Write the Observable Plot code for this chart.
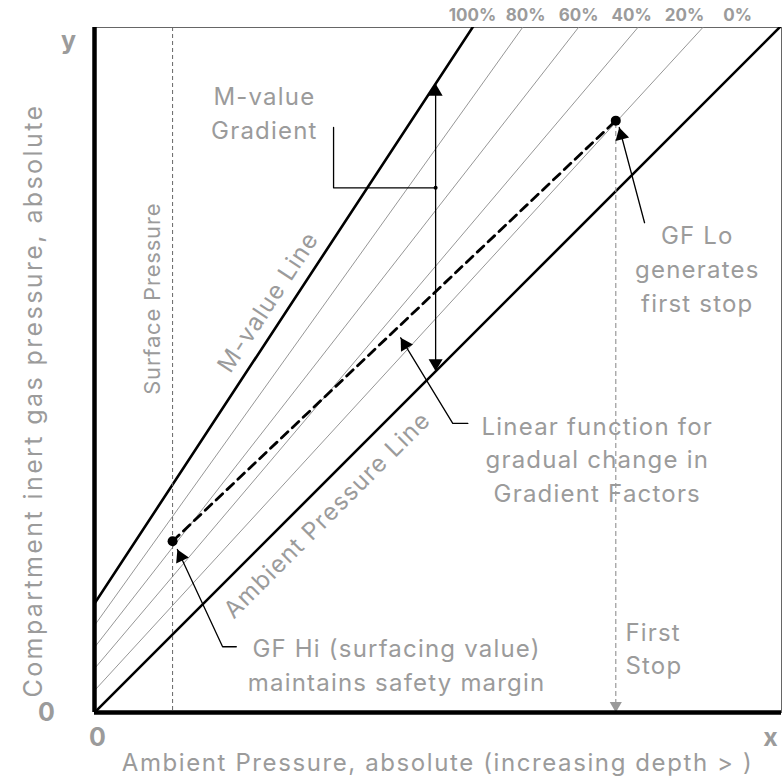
<!DOCTYPE html>
<html><head><meta charset="utf-8">
<script src="https://cdn.jsdelivr.net/npm/d3@7"></script>
<script src="https://cdn.jsdelivr.net/npm/@observablehq/plot@0.6"></script>
<style>body{margin:0;background:#fff}
.wide text{letter-spacing:1.2px}
.xtitle text{letter-spacing:1.6px}
.ytitle text{letter-spacing:2.4px}
.surface text{letter-spacing:0.8px}
</style>
</head><body><div id="chart"></div>
<script>
// Gradient-factor lines: y = intercept + slope * x  (100% = M-value line, 0% = ambient line)
const gfLevels = [100, 80, 60, 40, 20, 0];
const gfLabels = ["100%", "80%", "60%", "40%", "20%", "0%"];
const gfIntercepts = [1.59, 1.27, 0.95, 0.64, 0.32, 0];
const gfSlopes = [1.524, 1.397, 1.281, 1.18, 1.09, 1.0];

// key points
const gfHiPoint = {x: 1.14, y: 2.50};   // GF Hi (surfacing value)
const gfLoPoint = {x: 7.61, y: 8.64};   // GF Lo (first stop)
const gradientX = 4.98;                 // where M-value gradient is measured
const gradientDotY = 7.66;
const bracketCorner = {x: 3.49, y: 8.54};

// annotation arrows: short tail end, elbow, tip
const arrowGFHi = {elbow: {x: 1.87, y: 0.96}, tail: {x: 2.07, y: 0.96}, tip: {x: 1.21, y: 2.38}};
const arrowGFLo = {elbow: {x: 8.03, y: 7.15}, tail: null, tip: {x: 7.66, y: 8.54}};
const arrowLinear = {elbow: {x: 5.23, y: 4.22}, tail: {x: 5.45, y: 4.22}, tip: {x: 4.47, y: 5.47}};

// texts
const annotations = [
  {text: "M-value\nGradient", x: 2.48, y: 8.78},
  {text: "GF Lo\ngenerates\nfirst stop", x: 8.80, y: 6.50},
  {text: "Linear function for\ngradual change in\nGradient Factors", x: 7.34, y: 3.72},
  {text: "GF Hi (surfacing value)\nmaintains safety margin", x: 4.41, y: 0.715}
];
const leftAnnotations = [
  {text: "First\nStop", x: 7.75, y: 0.96}
];
const surfaceLabel = [{text: "Surface Pressure", x: 0.85, y: 6.04, rotate: -90}];
const lineLabels = [
  {text: "M-value Line", x: 2.54, y: 5.99, rotate: -56.7},
  {text: "Ambient Pressure Line", x: 3.40, y: 2.88, rotate: -45}
];
const xAxisTitle = "Ambient Pressure, absolute (increasing depth > )";
const yAxisTitle = "Compartment inert gas pressure, absolute";

// ---- layout ----
const PX = 68.5;                 // pixels per unit (equal on both axes)
const W = 782, H = 777;
const mL = 94, mR = 1, mT = 27, mB = 65;
const XMAX = (W - mL - mR) / PX;
const YMAX = (H - mT - mB) / PX;
const yAt = (i, x) => gfIntercepts[i] + gfSlopes[i] * x;

const lineData = gfLevels.flatMap((g, i) => [
  {g, i, x: 0, y: yAt(i, 0)},
  {g, i, x: XMAX, y: yAt(i, XMAX)}
]);
const thick = lineData.filter(d => d.g === 100 || d.g === 0);
const thin = lineData.filter(d => d.g !== 100 && d.g !== 0);

// top labels evenly spaced starting at M-value line top
const mTop = (YMAX - gfIntercepts[0]) / gfSlopes[0];
const topLabels = gfLabels.map((t, i) => ({text: t, x: mTop + i * 0.774, y: YMAX + 12 / PX}));

function head(tip, from, r) {
  let ux = tip.x - from.x, uy = tip.y - from.y;
  const n = Math.hypot(ux, uy); ux /= n; uy /= n;
  const off = 1.555 * r / PX;
  return {x: tip.x - ux * off, y: tip.y - uy * off, rotate: Math.atan2(ux, uy) * 180 / Math.PI};
}
const R = 5.2;
const yM = yAt(0, gradientX), yA = yAt(5, gradientX);
const blackHeads = [
  head(arrowGFHi.tip, arrowGFHi.elbow, R),
  head(arrowGFLo.tip, arrowGFLo.elbow, R),
  head(arrowLinear.tip, arrowLinear.elbow, R),
  head({x: gradientX, y: yM}, {x: gradientX, y: yA}, R),
  head({x: gradientX, y: yA}, {x: gradientX, y: yM}, R)
];
const grayHeads = [head({x: gfLoPoint.x, y: 0}, gfLoPoint, 4.5)];

const pathOf = a => (a.tail ? [a.tail, a.elbow, a.tip] : [a.elbow, a.tip]);

const font = "Inter, 'Open Sans', sans-serif";
const gray = "#9b9b9b";
const FS = 24;

const chart = Plot.plot({
  width: W, height: H,
  marginLeft: mL, marginRight: mR, marginTop: mT, marginBottom: mB,
  x: {domain: [0, XMAX], axis: null},
  y: {domain: [0, YMAX], axis: null},
  style: {fontFamily: font, background: "#fff"},
  marks: [
    Plot.frame({stroke: "#666", strokeWidth: 1}),
    // GF lines
    Plot.line(thin, {x: "x", y: "y", z: "g", stroke: "#8a8a8a", strokeWidth: 0.9, clip: true}),
    Plot.line(thick, {x: "x", y: "y", z: "g", stroke: "#000", strokeWidth: 2.6, clip: true}),
    // surface pressure & first stop verticals
    Plot.ruleX([gfHiPoint.x], {stroke: "#666", strokeWidth: 1, strokeDasharray: "4,3"}),
    Plot.ruleX([gfLoPoint.x], {y1: 0, y2: gfLoPoint.y, stroke: "#999", strokeWidth: 1.2, strokeDasharray: "5,3"}),
    Plot.dot(grayHeads, {x: "x", y: "y", rotate: "rotate", symbol: "triangle", r: 4.5, fill: "#999", stroke: "none"}),
    // linear function (dashed)
    Plot.line([gfHiPoint, gfLoPoint], {x: "x", y: "y", stroke: "#000", strokeWidth: 2.8, strokeDasharray: "9,6"}),
    // M-value gradient double arrow and bracket
    Plot.ruleX([gradientX], {y1: yA, y2: yM, stroke: "#000", strokeWidth: 1.3}),
    Plot.line([{x: gradientX, y: gradientDotY}, {x: bracketCorner.x, y: gradientDotY}, bracketCorner], {x: "x", y: "y", stroke: "#000", strokeWidth: 1.3}),
    Plot.dot([{x: gradientX, y: gradientDotY}], {x: "x", y: "y", r: 2, fill: "#000"}),
    // annotation arrows
    Plot.line(pathOf(arrowGFHi), {x: "x", y: "y", stroke: "#000", strokeWidth: 1.3}),
    Plot.line(pathOf(arrowGFLo), {x: "x", y: "y", stroke: "#000", strokeWidth: 1.3}),
    Plot.line(pathOf(arrowLinear), {x: "x", y: "y", stroke: "#000", strokeWidth: 1.3}),
    Plot.dot(blackHeads, {x: "x", y: "y", rotate: "rotate", symbol: "triangle", r: R, fill: "#000", stroke: "none"}),
    // key points
    Plot.dot([gfHiPoint, gfLoPoint], {x: "x", y: "y", r: 5, fill: "#000"}),
    // axes (thick)
    Plot.ruleX([0], {stroke: "#000", strokeWidth: 4.5}),
    Plot.ruleY([0], {stroke: "#000", strokeWidth: 4.5}),
    // texts
    Plot.text(annotations, {x: "x", y: "y", text: "text", textAnchor: "middle", fill: gray, fontSize: FS, lineHeight: 1.4, className: "wide"}),
    Plot.text(leftAnnotations, {x: "x", y: "y", text: "text", textAnchor: "start", fill: gray, fontSize: FS, lineHeight: 1.4, className: "wide"}),
    Plot.text(lineLabels, {x: "x", y: "y", text: "text", rotate: "rotate", fill: gray, fontSize: FS, className: "wide"}),
    Plot.text(surfaceLabel, {x: "x", y: "y", text: "text", rotate: "rotate", fill: gray, fontSize: 22, className: "surface"}),
    Plot.text(topLabels, {x: "x", y: "y", text: "text", fill: gray, fontSize: 17, fontWeight: "bold"}),
    Plot.text([{t: "y", x: -26 / PX, y: (712 - 40) / PX}, {t: "0", x: -48 / PX, y: 0}, {t: "0", x: 3 / PX, y: -25 / PX}, {t: "x", x: (770 - 94) / PX, y: -25 / PX}],
      {x: "x", y: "y", text: "t", fill: gray, fontSize: 25, fontWeight: "bold"}),
    Plot.text([xAxisTitle], {x: (437 - 94) / PX, y: -51 / PX, fill: gray, fontSize: FS, className: "xtitle"}),
    Plot.text([yAxisTitle], {x: -61 / PX, y: (712 - 400) / PX, rotate: -90, fill: gray, fontSize: 25, className: "ytitle"})
  ]
});
document.getElementById("chart").appendChild(chart);
</script>
</body></html>
